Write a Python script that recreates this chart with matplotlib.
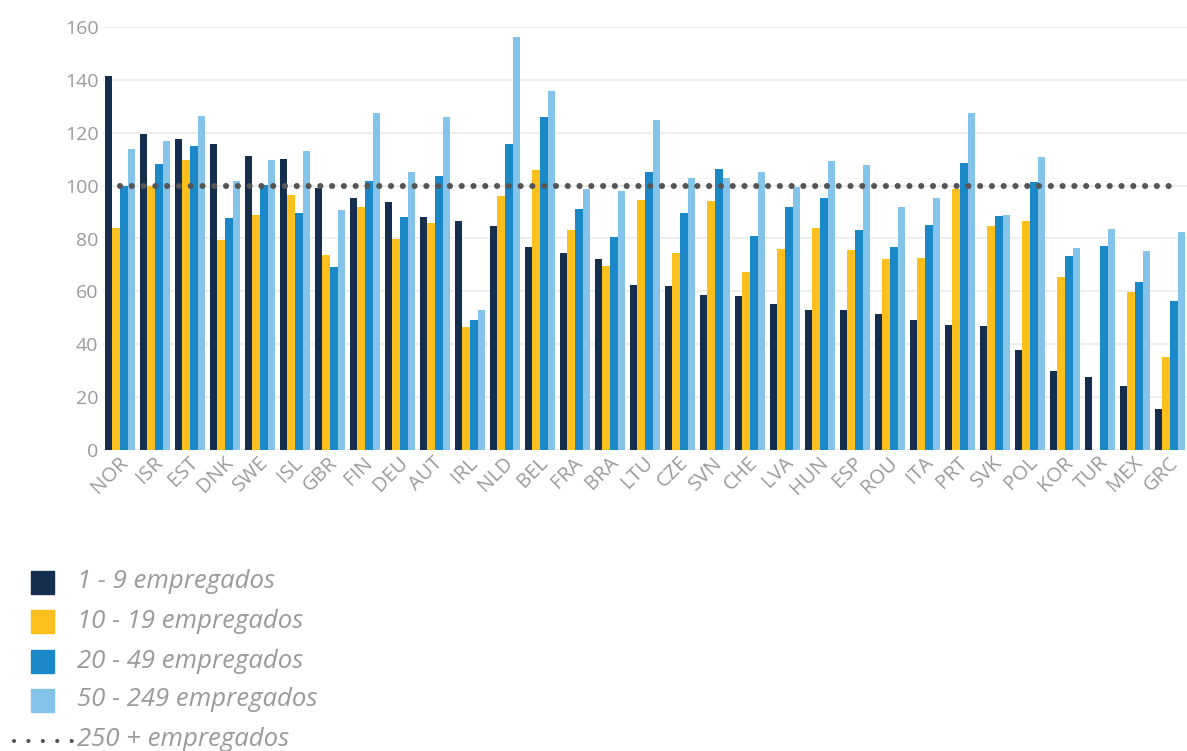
import numpy as np
import matplotlib
matplotlib.use('Agg')
import matplotlib.pyplot as plt
import matplotlib.transforms as mtransforms
from matplotlib.patches import Rectangle
from matplotlib.lines import Line2D

# dados
countries = ['NOR', 'ISR', 'EST', 'DNK', 'SWE', 'ISL', 'GBR', 'FIN', 'DEU', 'AUT',
             'IRL', 'NLD', 'BEL', 'FRA', 'BRA', 'LTU', 'CZE', 'SVN', 'CHE', 'LVA',
             'HUN', 'ESP', 'ROU', 'ITA', 'PRT', 'SVK', 'POL', 'KOR', 'TUR', 'MEX', 'GRC']
emp_1_9 = [141.5, 119.4, 117.6, 115.7, 111.2, 109.9, 99.0, 95.5, 93.7, 88.2,
           86.8, 84.6, 76.7, 74.5, 72.1, 62.4, 62.0, 58.7, 58.1, 55.3,
           53.1, 53.0, 51.5, 49.0, 47.3, 46.8, 37.9, 30.0, 27.8, 24.3, 15.4]
emp_10_19 = [83.9, 100.0, 109.7, 79.3, 88.7, 96.6, 73.9, 91.8, 79.8, 85.9,
             46.7, 96.0, 106.0, 83.2, 69.7, 94.5, 74.5, 94.1, 67.2, 75.9,
             83.9, 75.8, 72.1, 72.7, 98.7, 84.7, 86.5, 65.5, 0.0, 59.6, 35.2]
emp_20_49 = [99.9, 108.0, 115.1, 87.9, 100.2, 89.8, 69.3, 101.9, 88.3, 103.8,
             49.3, 115.7, 125.9, 91.1, 80.7, 105.0, 89.7, 106.1, 80.8, 92.0,
             95.4, 83.4, 76.8, 85.1, 108.5, 88.4, 101.3, 73.5, 77.0, 63.6, 56.5]
emp_50_249 = [114.0, 117.0, 126.5, 101.6, 109.7, 113.2, 90.7, 127.5, 105.2, 126.0,
              53.1, 156.2, 135.8, 98.9, 97.8, 125.0, 102.8, 103.0, 105.0, 99.3,
              109.3, 107.9, 92.0, 95.5, 127.4, 88.7, 110.9, 76.4, 83.6, 75.4, 82.3]
emp_250 = [100] * len(countries)

labels = ['1 - 9 empregados', '10 - 19 empregados', '20 - 49 empregados',
          '50 - 249 empregados', '250 + empregados']
colors = ['#152e4d', '#fbc01e', '#1b89c8', '#84c4ea']
dot_color = '#555555'
text_color = '#9a9a9a'

plt.rcParams['font.family'] = ['Open Sans', 'DejaVu Sans']

fig = plt.figure(figsize=(11.87, 7.51), dpi=100)
W, H = 1187, 751
ax = fig.add_axes([102.5 / W, 1 - 450 / H, (1187.5 - 102.5) / W, (450 - 27) / H])

x = np.arange(len(countries))
width = 0.215
series = [emp_1_9, emp_10_19, emp_20_49, emp_50_249]
for i, (vals, c) in enumerate(zip(series, colors)):
    ax.bar(x + (i - 1.5) * width, vals, width=width, color=c, zorder=2)

ax.plot(x, emp_250, color=dot_color, linewidth=4.4,
        linestyle=(0, (0.01, 1.918)), dash_capstyle='round', zorder=3)

ax.set_xlim(-0.5, len(countries) - 0.5)
ax.set_ylim(0, 160)
ax.set_yticks(np.arange(0, 161, 20))
ax.yaxis.grid(True, color='#eeeeee', linewidth=1.5, zorder=0)
ax.set_axisbelow(True)
for s in ax.spines.values():
    s.set_visible(False)
ax.tick_params(length=0, colors=text_color, labelsize=14, pad=3)
ax.tick_params(axis='x', pad=2)
ax.set_xticks(x)
ax.set_xticklabels(countries, rotation=45, ha='right', va='top', fontsize=14.5)
offset = mtransforms.ScaledTranslation(12 / 100, 0, fig.dpi_scale_trans)
for lab in ax.get_xticklabels():
    lab.set_transform(lab.get_transform() + offset)

# legenda desenhada à mão
rows = [582, 621, 661, 700, 740]
for yc, c, lab in zip(rows[:4], colors, labels[:4]):
    fig.add_artist(Rectangle((31 / W, 1 - (yc + 11.5) / H), 23 / W, 23 / H,
                             color=c, transform=fig.transFigure))
    fig.text(77 / W, 1 - yc / H, lab, fontsize=18.5, style='italic',
             color=text_color, va='center', ha='left')
fig.add_artist(Line2D([14 / W, 72 / W], [1 - 741 / H] * 2, color=dot_color,
                      linewidth=3, linestyle=(0, (0.01, 3.45)), dash_capstyle='round',
                      transform=fig.transFigure))
fig.text(77 / W, 1 - rows[4] / H, labels[4], fontsize=18.5, style='italic',
         color=text_color, va='center', ha='left')

fig.savefig('out.png', dpi=100)
